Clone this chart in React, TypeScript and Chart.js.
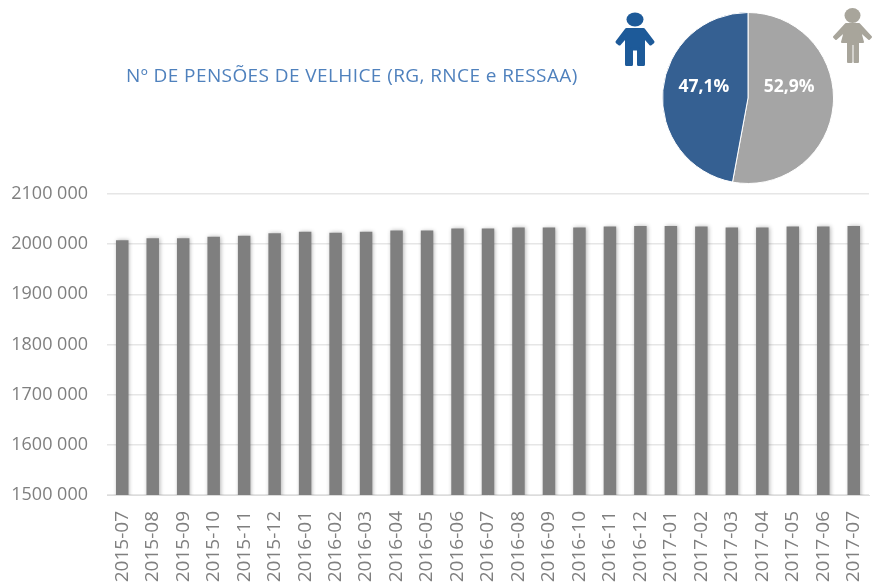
import React, { useEffect, useRef } from "react";
import { Chart, registerables } from "chart.js";

Chart.register(...registerables);

const months = ["2015-07","2015-08","2015-09","2015-10","2015-11","2015-12","2016-01","2016-02","2016-03","2016-04","2016-05","2016-06","2016-07","2016-08","2016-09","2016-10","2016-11","2016-12","2017-01","2017-02","2017-03","2017-04","2017-05","2017-06","2017-07"];
const pensions = [2008000,2012000,2012000,2015000,2017000,2022000,2025000,2023000,2025000,2027000,2027000,2031000,2031000,2033000,2033000,2033000,2035000,2036000,2036000,2035000,2033000,2033000,2035000,2035000,2036000];
const sexLabels = ["Mulheres", "Homens"];
const sexShares = [52.9, 47.1];
const sexColors = ["#a5a5a5", "#356092"];
const title = "Nº DE PENSÕES DE VELHICE (RG, RNCE e RESSAA)";
const FONT = "'Open Sans', sans-serif";
const AXIS = "#7f7f7f";

const fmt = (v: number) => {
  const s = String(v);
  return s.slice(0, s.length - 3) + " " + s.slice(-3);
};

export default function App() {
  const barRef = useRef<HTMLCanvasElement>(null);
  const pieRef = useRef<HTMLCanvasElement>(null);

  useEffect(() => {
    const bar = new Chart(barRef.current!, {
      type: "bar",
      data: { labels: months, datasets: [{ data: pensions, backgroundColor: "#7f7f7f", barPercentage: 0.41, categoryPercentage: 1 }] },
      plugins: [{
        id: "barShadow",
        beforeDatasetsDraw(c: any) {
          c.ctx.save();
          c.ctx.shadowColor = "rgba(0,0,0,0.3)";
          c.ctx.shadowBlur = 4;
          c.ctx.shadowOffsetX = 1;
          c.ctx.shadowOffsetY = 0;
        },
        afterDatasetsDraw(c: any) { c.ctx.restore(); },
      }],
      options: {
        animation: false,
        responsive: false,
        layout: { padding: { top: 194, right: 11, left: 0, bottom: 0 } },
        plugins: { legend: { display: false }, tooltip: { enabled: false } },
        scales: {
          x: {
            grid: { display: false },
            border: { color: "#dcdcdc" },
            afterFit(s: any) { s.height = 88; s.paddingLeft = 0; s.paddingRight = 0; },
            ticks: { autoSkip: false, minRotation: 90, maxRotation: 90, color: AXIS, padding: 8, font: { family: FONT, size: 19 } },
          },
          y: {
            min: 1500000, max: 2100000,
            grid: { color: "#e6e6e6", lineWidth: 1.5, drawTicks: false },
            border: { display: false },
            afterFit(s: any) { s.width = 107; },
            ticks: { stepSize: 100000, color: AXIS, padding: 19, font: { family: FONT, size: 18 }, callback: (v: any) => fmt(Number(v)) },
          },
        },
      },
    } as any);

    const pie = new Chart(pieRef.current!, {
      type: "pie",
      data: { labels: sexLabels, datasets: [{ data: sexShares, backgroundColor: sexColors, borderColor: "#ffffff", borderWidth: 1 }] },
      plugins: [{
        id: "sliceLabels",
        afterDatasetsDraw(c: any) {
          const { ctx } = c;
          ctx.save();
          ctx.fillStyle = "#ffffff";
          ctx.font = `bold 17.5px ${FONT}`;
          ctx.textAlign = "center";
          ctx.textBaseline = "middle";
          c.getDatasetMeta(0).data.forEach((arc: any, i: number) => {
            const p = arc.getCenterPoint();
            ctx.fillText(sexShares[i].toFixed(1).replace(".", ",") + "%", p.x - 1.5, arc.y - 11);
          });
          ctx.restore();
        },
      }],
      options: {
        animation: false,
        responsive: false,
        layout: { padding: 0 },
        plugins: { legend: { display: false }, tooltip: { enabled: false } },
      },
    } as any);

    return () => { bar.destroy(); pie.destroy(); };
  }, []);

  return (
    <div style={{ position: "fixed", left: 0, top: 0, width: 880, height: 583, overflow: "hidden", background: "#fff" }}>
      <canvas ref={barRef} width={880} height={583} style={{ position: "absolute", left: 0, top: 0 }} />
      <canvas ref={pieRef} width={172} height={172} style={{ position: "absolute", left: 661.5, top: 11.5 }} />
      <div style={{ position: "absolute", left: 126, top: 63, fontFamily: FONT, fontSize: 19, letterSpacing: 0.41, color: "#4f81bd", whiteSpace: "nowrap", lineHeight: "24px" }}>{title}</div>
      <svg width={46} height={60} viewBox="0 0 46 60" style={{ position: "absolute", left: 612, top: 11 }}>
        <ellipse cx={23} cy={8.5} rx={8.5} ry={7} fill="#1d5a99" />
        <path d="M14.5 18.5 H31.5 L41 31 L38.5 33 L31.5 25 V53.5 H26.5 V38 H19.5 V53.5 H14.5 V25 L7.5 33 L5 31 Z" fill="#1d5a99" stroke="#1d5a99" strokeWidth={3} strokeLinejoin="round" />
      </svg>
      <svg width={46} height={60} viewBox="0 0 46 60" style={{ position: "absolute", left: 831, top: 8 }}>
        <ellipse cx={21.5} cy={7.5} rx={8} ry={7.5} fill="#a8a59b" />
        <path d="M15 16 H28 L40 29 L38 31 L29 23 L32 34 H27 V54 H23.5 V36 H20.5 V54 H17 V34 H11 L14 23 L5 31 L3 29 Z" fill="#a8a59b" stroke="#a8a59b" strokeWidth={2} strokeLinejoin="round" />
      </svg>
    </div>
  );
}
